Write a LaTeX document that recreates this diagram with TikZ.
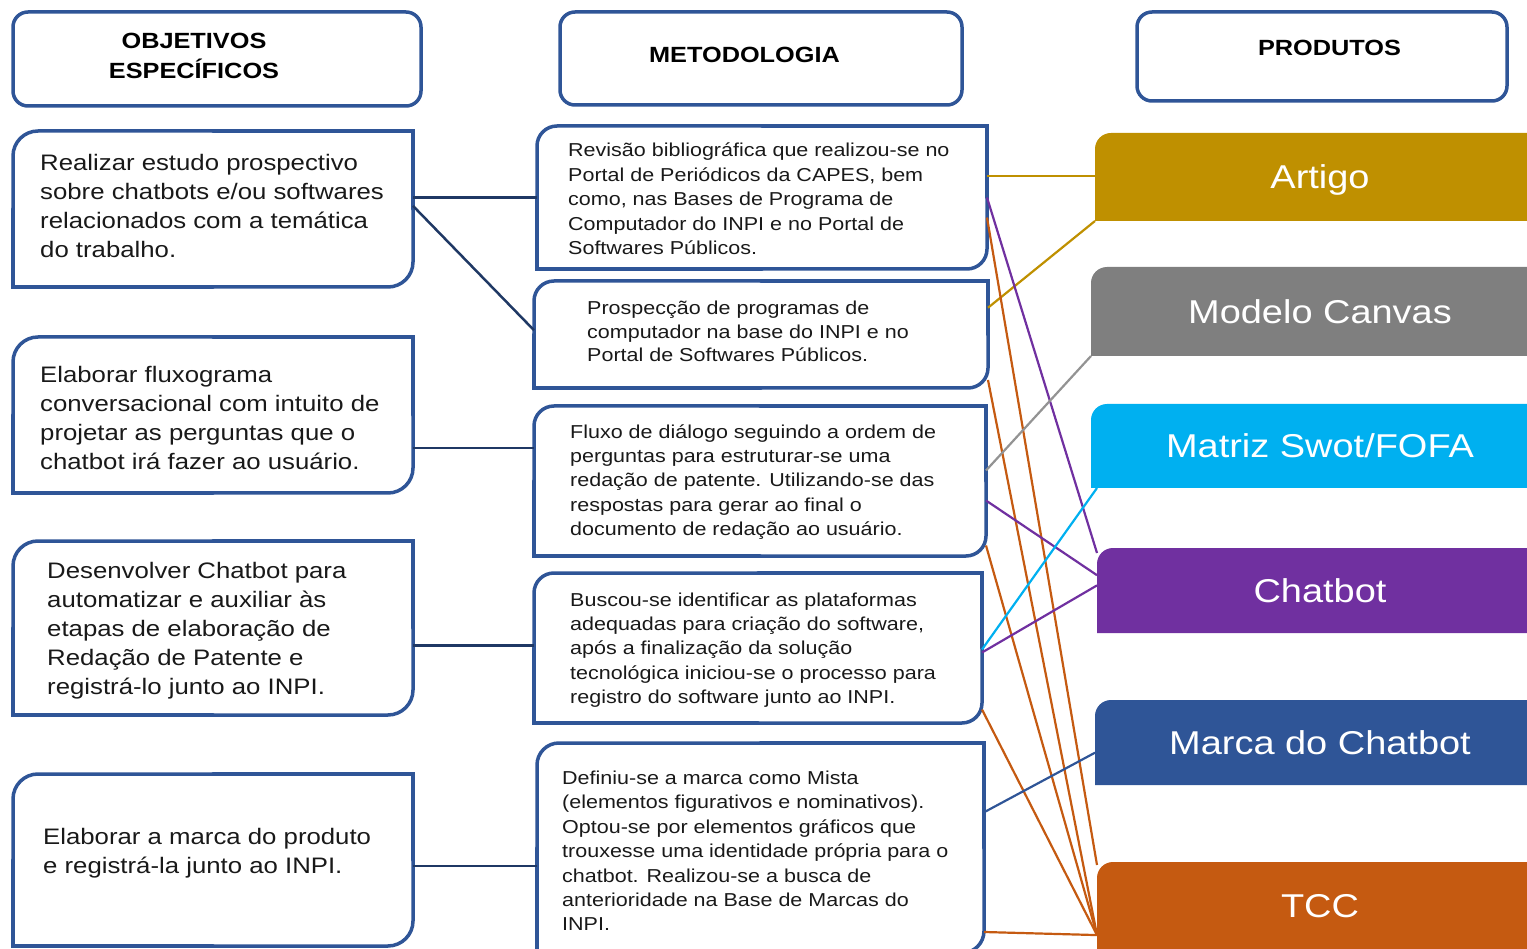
\documentclass[tikz,border=0pt]{standalone}
\usepackage{fontspec}
\setmainfont{Liberation Sans}[FakeStretch=1.15]
\usetikzlibrary{calc,backgrounds}
\definecolor{bxc}{HTML}{2F5597}
\definecolor{navy}{HTML}{1F3864}
\definecolor{cgold}{HTML}{BF9000}
\definecolor{cgray}{HTML}{7F7F7F}
\definecolor{cgrayl}{HTML}{939393}
\definecolor{ccyan}{HTML}{00B0F0}
\definecolor{cpurp}{HTML}{7030A0}
\definecolor{cblue}{HTML}{2F5597}
\definecolor{corng}{HTML}{C55A11}
\newcommand\diagshape[2]{%
  \draw[boxline, rounded corners=#2] (#1.west) |- (#1.north);
  \draw[boxline, rounded corners=#2] (#1.east) |- (#1.south);
  \draw[boxline] (#1.north) -| (#1.east);
  \draw[boxline] (#1.south) -| (#1.west);}
\newcommand\prodshape[2]{%
  \begin{scope}[on background layer]
  \fill[#2] (#1.south west) -- ($(#1.north west)+(0,16)$)
     arc[start angle=180, end angle=90, radius=16pt]
     -- (#1.north east) -- (#1.south east) -- cycle;
  \end{scope}}
\begin{document}
\begin{tikzpicture}[x=1pt,y=-1pt,
  frame/.style 2 args={minimum width=#1, minimum height=#2, inner sep=0, outer sep=0},
  boxline/.style={draw=bxc, line width=3.5pt, line cap=round},
  hdr/.style={draw=bxc, line width=3.5pt, rounded corners=15, inner sep=0},
  hdrtext/.style={font=\bfseries\fontsize{22}{30}\selectfont, align=center, inner sep=0, text=black},
  ltext/.style={anchor=west, align=left, inner sep=0, font=\fontsize{22.4}{29}\selectfont, text=black!90},
  mtext/.style={anchor=west, align=left, inner sep=0, font=\fontsize{18.7}{24.4}\selectfont, text=black!90},
  ptext/.style={text=white, font=\fontsize{33}{40}\selectfont, text height=23.6pt, text depth=0pt},
  lk/.style={draw=navy, line width=2.5pt},
  cn/.style={line width=2.2pt}]
\useasboundingbox (0,0) rectangle (1527,949);

% headers
\node[hdr, frame={408}{94}] (H1) at (217,59) {};
\node[hdrtext] (H1t) at (194,56) {OBJETIVOS\\ESPECÍFICOS};
\node[hdr, frame={402}{93}] (H2) at (761,58.5) {};
\node[hdrtext] (H2t) at (744.5,55) {METODOLOGIA};
\node[hdr, frame={370}{89}] (H3) at (1322,56.5) {};
\node[hdrtext] (H3t) at (1329.5,48) {PRODUTOS};

% left boxes
\node[frame={400}{156}] (L1) at (213,209) {};
\node[frame={400}{156}] (L2) at (213,415) {};
\node[frame={400}{174}] (L3) at (213,628) {};
\node[frame={400}{172}] (L4) at (213,860) {};
\diagshape{L1}{25}\diagshape{L2}{25}\diagshape{L3}{25}\diagshape{L4}{25}
\node[ltext] (L1t) at (40,206) {Realizar estudo prospectivo\\sobre chatbots e/ou softwares\\relacionados com a temática\\do trabalho.};
\node[ltext] (L2t) at (40,418) {Elaborar fluxograma\\conversacional com intuito de\\projetar as perguntas que o\\chatbot irá fazer ao usuário.};
\node[ltext] (L3t) at (47,630.5) {Desenvolver Chatbot para\\automatizar e auxiliar às\\etapas de elaboração de\\Redação de Patente e\\registrá-lo junto ao INPI.};
\node[ltext] (L4t) at (43,853) {Elaborar a marca do produto\\e registrá-la junto ao INPI.};

% middle boxes
\node[frame={450}{143}] (M1) at (762,197.5) {};
\node[frame={454}{107}] (M2) at (761,334.5) {};
\node[frame={452}{150}] (M3) at (760,481) {};
\node[frame={448}{150}] (M4) at (758,648) {};
\node[frame={447}{210}] (M5) at (760.5,848) {};
\diagshape{M1}{20}\diagshape{M2}{20}\diagshape{M3}{20}\diagshape{M4}{20}\diagshape{M5}{22}
\node[mtext] (M1t) at (568,199) {Revisão bibliográfica que realizou-se no\\Portal de Periódicos da CAPES, bem\\como, nas Bases de Programa de\\Computador do INPI e no Portal de\\Softwares Públicos.};
\node[mtext, font=\fontsize{18.7}{23.5}\selectfont] (M2t) at (587,331.5) {Prospecção de programas de\\computador na base do INPI e no\\Portal de Softwares Públicos.};
\node[mtext] (M3t) at (570,482) {Fluxo de diálogo seguindo a ordem de\\perguntas para estruturar-se uma\\redação de patente. Utilizando-se das\\respostas para gerar ao final o\\documento de redação ao usuário.};
\node[mtext] (M4t) at (570,650) {Buscou-se identificar as plataformas\\adequadas para criação do software,\\após a finalização da solução\\tecnológica iniciou-se o processo para\\registro do software junto ao INPI.};
\node[mtext] (M5t) at (562,851) {Definiu-se a marca como Mista\\(elementos figurativos e nominativos).\\Optou-se por elementos gráficos que\\trouxesse uma identidade própria para o\\chatbot. Realizou-se a busca de\\anterioridade na Base de Marcas do\\INPI.};

% products
\node[frame={450}{88}, ptext] (P1) at (1320,177) {Artigo};
\node[frame={458}{89}, ptext] (P2) at (1320,311.5) {Modelo Canvas};
\node[frame={458}{84}, ptext] (P3) at (1320,446) {Matriz Swot/FOFA};
\node[frame={446}{85}, ptext] (P4) at (1320,590.5) {Chatbot};
\node[frame={450}{85}, ptext] (P5) at (1320,742.5) {Marca do Chatbot};
\node[frame={446}{87}, ptext] (P6) at (1320,905.5) {TCC};
\prodshape{P1}{cgold}\prodshape{P2}{cgray}\prodshape{P3}{ccyan}
\prodshape{P4}{cpurp}\prodshape{P5}{cblue}\prodshape{P6}{corng}

% left -> middle connectors
\draw[lk] (L1.east |- M1.west) -- (M1.west);
\draw[lk] ($(L1.north east)!0.48!(L1.south east)$) -- ($(M2.north west)!0.46!(M2.south west)$);
\draw[lk] ($(L2.north east)!0.71!(L2.south east)$) coordinate (c2) -- (c2 -| M3.west);
\draw[lk] ($(L3.north east)!0.6!(L3.south east)$) coordinate (c3) -- (c3 -| M4.west);
\draw[lk] ($(L4.north east)!0.535!(L4.south east)$) coordinate (c4) -- (c4 -| M5.west);

% middle -> products connectors
\coordinate (tcc) at ($(P6.north west)!0.84!(P6.south west)$);
\draw[cn, cgold] ($(M1.north east)!0.35!(M1.south east)$) coordinate (a1) -- (a1 -| P1.west);
\draw[cn, cgold] ($(M2.north east)!0.25!(M2.south east)$) -- (P1.south west);
\draw[cn, cpurp] (M1.east) -- ([yshift=-5pt]P4.north west);
\draw[cn, corng] ($(M1.north east)!0.64!(M1.south east)$) -- ([yshift=-3pt]P6.north west);
\draw[cn, corng] ($(M2.north east)!0.925!(M2.south east)$) -- (tcc);
\draw[cn, cgrayl] ($(M3.north east)!0.43!(M3.south east)$) -- (P2.south west);
\draw[cn, cpurp] ($(M3.north east)!0.63!(M3.south east)$) -- ($(P4.north west)!0.32!(P4.south west)$);
\draw[cn, corng] ($(M3.north east)!0.93!(M3.south east)$) -- (tcc);
\draw[cn, ccyan] ($(M4.north east)!0.51!(M4.south east)$) -- ([xshift=6pt]P3.south west);
\draw[cn, cpurp] ($(M4.north east)!0.53!(M4.south east)$) -- ($(P4.north west)!0.44!(P4.south west)$);
\draw[cn, corng] ($(M4.north east)!0.91!(M4.south east)$) -- (tcc);
\draw[cn, cblue] ($(M5.north east)!0.33!(M5.south east)$) -- ($(P5.north west)!0.62!(P5.south west)$);
\draw[cn, corng] ($(M5.north east)!0.9!(M5.south east)$) -- (tcc);
\end{tikzpicture}
\end{document}
